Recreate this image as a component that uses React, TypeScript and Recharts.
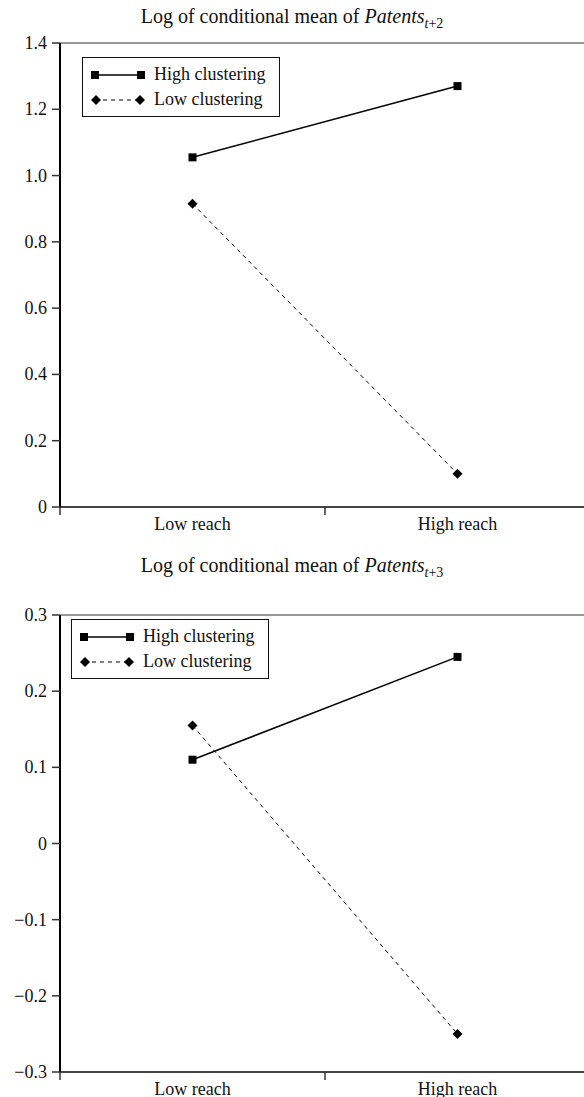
import React from "react"
import { Legend, Line, LineChart, ReferenceLine, XAxis, YAxis } from "recharts"

const categories = ["Low reach", "High reach"]
const seriesNames = ["High clustering", "Low clustering"]

// Patents t+2
const highT2 = [1.055, 1.27]
const lowT2 = [0.915, 0.1]
const yTicksT2 = [0, 0.2, 0.4, 0.6, 0.8, 1.0, 1.2, 1.4]

// Patents t+3
const highT3 = [0.11, 0.245]
const lowT3 = [0.155, -0.25]
const yTicksT3 = [-0.3, -0.2, -0.1, 0, 0.1, 0.2, 0.3]

// x positions: category bands of width 1, boundary ticks at integers
const xTicks = [0, 0.5, 1, 1.5, 2]

const FONT = '"Liberation Serif", "Times New Roman", serif'

const buildRows = (high: number[], low: number[]) =>
  categories.map((c, i) => ({ name: c, x: i + 0.5, high: high[i], low: low[i] }))

const fmtY = (v: number) => (v === 0 ? "0" : v.toFixed(1).replace("-", "\u2212"))

const XTick = (props: any) => {
  const { x, y, payload } = props
  const v = payload.value
  if (Number.isInteger(v)) {
    return <line x1={x} x2={x} y1={y - 8} y2={y} stroke="#333" strokeWidth={1.5} />
  }
  return (
    <text x={x} y={y} dy={15} textAnchor="middle" style={{ fontFamily: FONT, fontSize: 18 }} fill="#111">
      {categories[Math.floor(v)]}
    </text>
  )
}

const YTick = (props: any) => {
  const { x, y, payload } = props
  return (
    <text x={x} y={y} dy={6} textAnchor="end" style={{ fontFamily: FONT, fontSize: 18 }} fill="#111">
      {fmtY(payload.value)}
    </text>
  )
}

const SquareDot = (p: any) => (
  <rect key={`s-${p.index}`} x={p.cx - 4} y={p.cy - 4} width={8} height={8} fill="#000" />
)

const DiamondDot = (p: any) => (
  <path
    key={`d-${p.index}`}
    d={`M${p.cx},${p.cy - 5}L${p.cx + 5},${p.cy}L${p.cx},${p.cy + 5}L${p.cx - 5},${p.cy}Z`}
    fill="#000"
  />
)

const LegendBox = () => (
  <div
    style={{
      border: "1.5px solid #111",
      padding: "4px 14px 4px 8px",
      background: "#fff",
      fontFamily: FONT,
      fontSize: 18,
      color: "#111",
    }}
  >
    {seriesNames.map((n, i) => (
      <div key={n} style={{ display: "flex", alignItems: "center", height: 25 }}>
        <svg width={54} height={14} style={{ marginRight: 9 }}>
          {i === 0 ? (
            <>
              <line x1={4} x2={50} y1={7} y2={7} stroke="#000" strokeWidth={1.5} />
              <rect x={0} y={3} width={8} height={8} fill="#000" />
              <rect x={46} y={3} width={8} height={8} fill="#000" />
            </>
          ) : (
            <>
              <line x1={4} x2={50} y1={7} y2={7} stroke="#000" strokeWidth={1} strokeDasharray="4 4" />
              <path d="M5,2L10,7L5,12L0,7Z" fill="#000" />
              <path d="M49,2L54,7L49,12L44,7Z" fill="#000" />
            </>
          )}
        </svg>
        <span>{n}</span>
      </div>
    ))}
  </div>
)

const Title = ({ sub, top }: { sub: string; top: number }) => (
  <div
    style={{
      position: "absolute",
      top,
      left: 0,
      width: 584,
      textAlign: "center",
      fontFamily: FONT,
      fontSize: 20,
      color: "#111",
    }}
  >
    Log of conditional mean of <i>Patents</i>
    <sub style={{ fontSize: 14 }}>
      <i>t</i>+{sub}
    </sub>
  </div>
)

interface PanelProps {
  high: number[]
  low: number[]
  ticks: number[]
  height: number
  bottom: number
  legendPos: { left: number; top: number }
}

const Panel = ({ high, low, ticks, height, bottom, legendPos }: PanelProps) => {
  const data = buildRows(high, low)
  const lo = ticks[0]
  const hi = ticks[ticks.length - 1]
  return (
    <LineChart width={590} height={height} data={data} margin={{ top: 43, right: 0, bottom, left: 0 }}>
      <XAxis
        type="number"
        dataKey="x"
        domain={[0, 2]}
        ticks={xTicks}
        interval={0}
        tickSize={8}
        tickMargin={0}
        tickLine={false}
        tick={<XTick />}
        height={30}
        axisLine={{ stroke: "#444", strokeWidth: 2 }}
      />
      <YAxis
        type="number"
        domain={[lo, hi]}
        ticks={ticks}
        interval={0}
        width={60}
        tickSize={8}
        tickMargin={5}
        tick={<YTick />}
        tickLine={{ stroke: "#333", strokeWidth: 1.5 }}
        axisLine={{ stroke: "#000", strokeWidth: 2 }}
      />
      <ReferenceLine y={hi} stroke="#333" strokeWidth={1} />
      <Legend
        layout="horizontal"
        verticalAlign="middle"
        content={<LegendBox />}
        wrapperStyle={{ left: legendPos.left, top: legendPos.top, width: "auto", height: "auto" }}
      />
      <Line
        dataKey="high"
        name={seriesNames[0]}
        stroke="#000"
        strokeWidth={1.5}
        dot={SquareDot}
        activeDot={false}
        isAnimationActive={false}
      />
      <Line
        dataKey="low"
        name={seriesNames[1]}
        stroke="#000"
        strokeWidth={1}
        strokeDasharray="4 4"
        dot={DiamondDot}
        activeDot={false}
        isAnimationActive={false}
      />
    </LineChart>
  )
}

export default function App() {
  return (
    <div
      style={{
        position: "fixed",
        top: 0,
        left: 0,
        width: 584,
        height: 1097,
        overflow: "hidden",
        background: "#fff",
        fontFamily: FONT,
      }}
    >
      <Title sub="2" top={5} />
      <div style={{ position: "absolute", top: 0, left: 0 }}>
        <Panel high={highT2} low={lowT2} ticks={yTicksT2} height={545} bottom={8} legendPos={{ left: 82, top: 57 }} />
      </div>
      <Title sub="3" top={554} />
      <div style={{ position: "absolute", top: 572, left: 0 }}>
        <Panel high={highT3} low={lowT3} ticks={yTicksT3} height={530} bottom={0} legendPos={{ left: 71, top: 47 }} />
      </div>
    </div>
  )
}
